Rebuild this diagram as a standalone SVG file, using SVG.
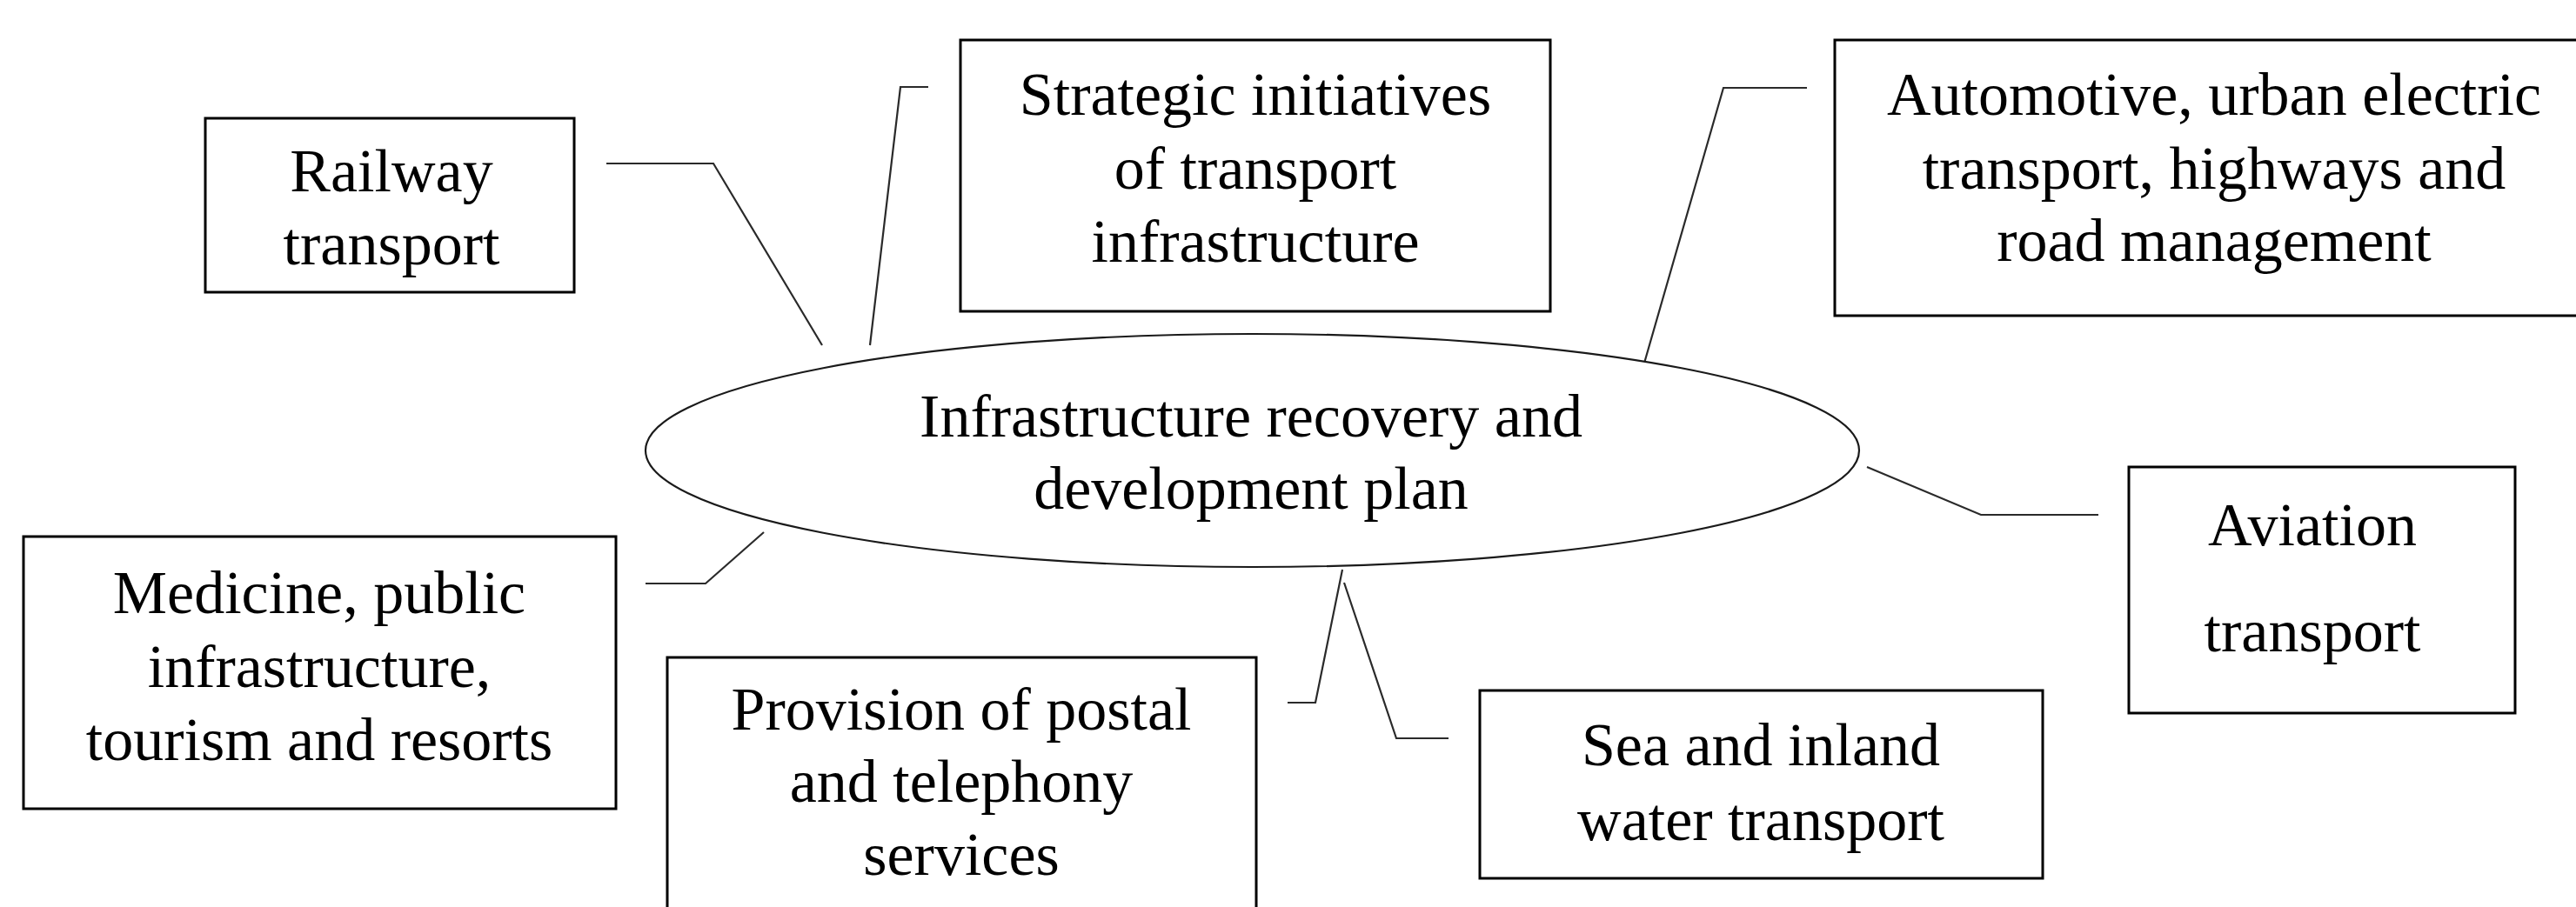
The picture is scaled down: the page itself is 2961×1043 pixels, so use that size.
<svg xmlns="http://www.w3.org/2000/svg" width="2961" height="1043" viewBox="0 0 2961 1043">
  <style>
    .box { fill: #ffffff; stroke: #000000; stroke-width: 3; }
    .hub { fill: #ffffff; stroke: #1a1a1a; stroke-width: 2.2; }
    .link { fill: none; stroke: #2a2a2a; stroke-width: 2.2; stroke-linejoin: miter; }
    text { font-family: "Liberation Serif", "Times New Roman", serif; font-size: 70px; fill: #000000; text-anchor: middle; }
  </style>
  <rect x="0" y="0" width="2961" height="1043" fill="#ffffff"/>

  <!-- connectors from the central plan to each sector -->
  <g id="connectors">
    <polyline class="link" points="697,188 820,188 945,397"/>
    <polyline class="link" points="1067,100 1035,100 1000,397"/>
    <polyline class="link" points="2077,101 1981,101 1887,428"/>
    <polyline class="link" points="2146,537 2277,592 2412,592"/>
    <polyline class="link" points="1545,670 1605,849 1665,849"/>
    <polyline class="link" points="1543,655 1512,808 1480,808"/>
    <polyline class="link" points="878,612 811,671 742,671"/>
  </g>

  <g id="plan">
    <ellipse class="hub" cx="1439.5" cy="518" rx="697.5" ry="134"/>
    <text x="1438" y="502">Infrastructure recovery and</text>
    <text x="1438" y="585">development plan</text>
  </g>

  <g id="railway">
    <rect class="box" x="236" y="136" width="424" height="200"/>
    <text x="450" y="220">Railway</text>
    <text x="450" y="304">transport</text>
  </g>

  <g id="strategic">
    <rect class="box" x="1104" y="46" width="678" height="312"/>
    <text x="1443" y="132">Strategic initiatives</text>
    <text x="1443" y="217">of transport</text>
    <text x="1443" y="301">infrastructure</text>
  </g>

  <g id="automotive">
    <rect class="box" x="2109" y="46" width="880" height="317"/>
    <text x="2545" y="132">Automotive, urban electric</text>
    <text x="2545" y="217">transport, highways and</text>
    <text x="2545" y="300">road management</text>
  </g>

  <g id="aviation">
    <rect class="box" x="2447" y="537" width="444" height="283"/>
    <text x="2658" y="627">Aviation</text>
    <text x="2658" y="749">transport</text>
  </g>

  <g id="sea">
    <rect class="box" x="1701" y="794" width="647" height="216"/>
    <text x="2024" y="880">Sea and inland</text>
    <text x="2024" y="966">water transport</text>
  </g>

  <g id="postal">
    <rect class="box" x="767" y="756" width="677" height="320"/>
    <text x="1105" y="839">Provision of postal</text>
    <text x="1105" y="922">and telephony</text>
    <text x="1105" y="1006">services</text>
  </g>

  <g id="medicine">
    <rect class="box" x="27" y="617" width="681" height="313"/>
    <text x="367" y="705">Medicine, public</text>
    <text x="367" y="790">infrastructure,</text>
    <text x="367" y="874">tourism and resorts</text>
  </g>
</svg>
